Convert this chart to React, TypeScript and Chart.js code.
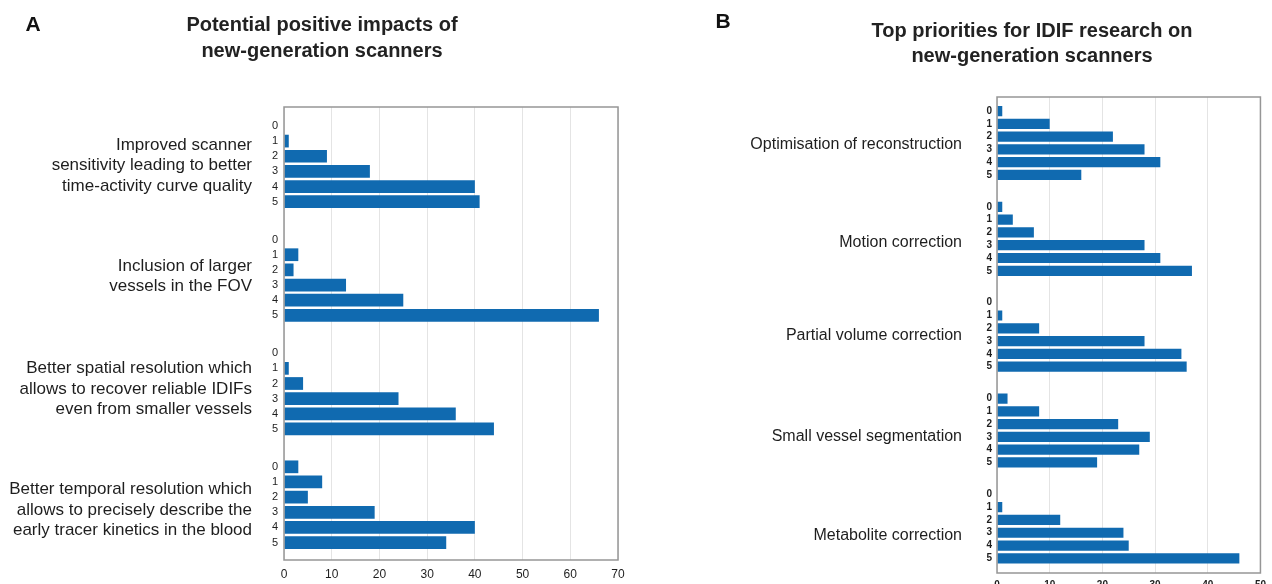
import React, { useEffect, useRef } from "react";
import { Chart, registerables } from "chart.js";

Chart.register(...registerables);

// ---------- data ----------
const RATING_LABELS = ["0", "1", "2", "3", "4", "5"];

const A_TITLE = ["Potential positive impacts of", "new-generation scanners"];
const A_GROUP_LABELS = [
  ["Improved scanner", "sensitivity leading to better", "time-activity curve quality"],
  ["Inclusion of larger", "vessels in the FOV"],
  ["Better spatial resolution which", "allows to recover reliable IDIFs", "even from smaller vessels"],
  ["Better temporal resolution which", "allows to precisely describe the", "early tracer kinetics in the blood"],
];
const A_SENSITIVITY = [0, 1, 9, 18, 40, 41];
const A_LARGER_VESSELS = [0, 3, 2, 13, 25, 66];
const A_SPATIAL = [0, 1, 4, 24, 36, 44];
const A_TEMPORAL = [3, 8, 5, 19, 40, 34];
const A_X_MAX = 70;

const B_TITLE = ["Top priorities for IDIF research on", "new-generation scanners"];
const B_GROUP_LABELS = [
  "Optimisation of reconstruction",
  "Motion correction",
  "Partial volume correction",
  "Small vessel segmentation",
  "Metabolite correction",
];
const B_RECONSTRUCTION = [1, 10, 22, 28, 31, 16];
const B_MOTION = [1, 3, 7, 28, 31, 37];
const B_PARTIAL_VOLUME = [0, 1, 8, 28, 35, 36];
const B_SEGMENTATION = [2, 8, 23, 29, 27, 19];
const B_METABOLITE = [0, 1, 12, 24, 25, 46];
const B_X_MAX = 50;

const X_STEP = 10;

// ---------- styling / layout ----------
const FONT = "'Liberation Sans', Arial, Helvetica, sans-serif";
const BAR_COLOR = "#106ab0";
const GRID_COLOR = "#e4e4e4";
const BOX_COLOR = "#969696";
const TEXT_COLOR = "#1e1e1e";
const GROUP_STRIDE = 7.5; // rows per group incl. gap
const A_LABEL_NUDGE = [0.13, -0.09, -0.13, 0.34]; // vertical nudge of group labels (rows)
const B_LABEL_NUDGE = [0.1, 0.3, 0.05, 0.5, 0.7];

const boxPlugin = {
  id: "boxFrame",
  afterDraw(chart: any) {
    const { ctx, chartArea } = chart;
    const { left, top, right, bottom } = chartArea;
    ctx.save();
    ctx.strokeStyle = BOX_COLOR;
    ctx.lineWidth = 1.5;
    ctx.strokeRect(left, top, right - left, bottom - top);
    ctx.restore();
  },
};

type PanelCfg = {
  left: number;
  width: number;
  height: number;
  series: number[][];
  groupLabels: (string | string[])[];
  labelNudge: number[];
  xMax: number;
  padTop: number;
  padRight: number;
  padBottom: number;
  xAxisH: number;
  xTickPad: number;
  xFont: any;
  yFont: any;
  groupFont: any;
  groupW: number;
  yTickW: number;
  yTickPad: number;
  groupPad: number;
  yMinPad: number;
  yMaxPad: number;
  barPct: number;
};

function Panel({ cfg }: { cfg: PanelCfg }) {
  const ref = useRef<HTMLCanvasElement | null>(null);
  useEffect(() => {
    if (!ref.current) return;
    const points: { x: number; y: number }[] = [];
    const rowPositions: number[] = [];
    cfg.series.forEach((vals, g) =>
      vals.forEach((v, r) => {
        const pos = g * GROUP_STRIDE + r;
        points.push({ x: v, y: pos });
        rowPositions.push(pos);
      })
    );
    const groupCenters = cfg.series.map(
      (vals, g) => g * GROUP_STRIDE + (vals.length - 1) / 2 + (cfg.labelNudge[g] || 0)
    );
    const yMin = -cfg.yMinPad;
    const yMax = (cfg.series.length - 1) * GROUP_STRIDE + (RATING_LABELS.length - 1) + cfg.yMaxPad;

    const zeroPad = (s: any) => {
      s.paddingTop = 0;
      s.paddingBottom = 0;
    };

    const chart = new Chart(ref.current, {
      type: "bar",
      data: {
        datasets: [
          {
            data: points as any,
            backgroundColor: BAR_COLOR,
            borderWidth: 0,
            categoryPercentage: 1,
            barPercentage: cfg.barPct,
          },
        ],
      },
      options: {
        indexAxis: "y",
        animation: false,
        responsive: false,
        devicePixelRatio: 1,
        events: [],
        layout: { padding: { left: 0, top: cfg.padTop, right: cfg.padRight, bottom: cfg.padBottom } },
        plugins: { legend: { display: false }, tooltip: { enabled: false }, title: { display: false } },
        scales: {
          x: {
            type: "linear",
            position: "bottom",
            min: 0,
            max: cfg.xMax,
            offset: false,
            grid: { color: GRID_COLOR, drawTicks: false, lineWidth: 1, offset: false },
            border: { display: false },
            ticks: { stepSize: X_STEP, padding: cfg.xTickPad, color: TEXT_COLOR, font: cfg.xFont, maxRotation: 0 },
            afterFit: (s: any) => {
              s.height = cfg.xAxisH;
            },
          },
          y: {
            type: "linear",
            position: "left",
            reverse: true,
            min: yMin,
            max: yMax,
            offset: false,
            weight: 0,
            grid: { display: false, drawTicks: false, offset: false },
            border: { display: false },
            afterBuildTicks: (s: any) => {
              s.ticks = rowPositions.map((v) => ({ value: v }));
            },
            ticks: {
              autoSkip: false,
              padding: cfg.yTickPad,
              color: TEXT_COLOR,
              font: cfg.yFont,
              callback: (_v: any, i: number) => RATING_LABELS[i % RATING_LABELS.length],
            },
            afterFit: (s: any) => {
              s.width = cfg.yTickW;
              zeroPad(s);
            },
          },
          yg: {
            type: "linear",
            position: "left",
            reverse: true,
            min: yMin,
            max: yMax,
            offset: false,
            weight: 1,
            grid: { display: false, drawTicks: false, offset: false },
            border: { display: false },
            afterBuildTicks: (s: any) => {
              s.ticks = groupCenters.map((v) => ({ value: v }));
            },
            ticks: {
              autoSkip: false,
              padding: cfg.groupPad,
              color: TEXT_COLOR,
              font: cfg.groupFont,
              callback: (_v: any, i: number) => cfg.groupLabels[i] as any,
            },
            afterFit: (s: any) => {
              s.width = cfg.groupW;
              zeroPad(s);
            },
          },
        },
      } as any,
      plugins: [boxPlugin],
    });
    return () => chart.destroy();
  }, [cfg]);
  return (
    <canvas
      ref={ref}
      width={cfg.width}
      height={cfg.height}
      style={{ position: "absolute", left: cfg.left, top: 0, width: cfg.width, height: cfg.height, display: "block" }}
    />
  );
}

const PANEL_A: PanelCfg = {
  left: 0,
  width: 644,
  height: 584,
  series: [A_SENSITIVITY, A_LARGER_VESSELS, A_SPATIAL, A_TEMPORAL],
  groupLabels: A_GROUP_LABELS,
  labelNudge: A_LABEL_NUDGE,
  xMax: A_X_MAX,
  padTop: 107,
  padRight: 26,
  padBottom: 0,
  xAxisH: 24,
  xTickPad: 7,
  xFont: { family: FONT, size: 12 },
  yFont: { family: FONT, size: 11 },
  groupFont: { family: FONT, size: 17, lineHeight: 1.2 },
  groupW: 262,
  yTickW: 22,
  yTickPad: 6,
  groupPad: 10,
  yMinPad: 1.25,
  yMaxPad: 1.15,
  barPct: 0.84,
};

const PANEL_B: PanelCfg = {
  left: 644,
  width: 628,
  height: 600,
  series: [B_RECONSTRUCTION, B_MOTION, B_PARTIAL_VOLUME, B_SEGMENTATION, B_METABOLITE],
  groupLabels: B_GROUP_LABELS,
  labelNudge: B_LABEL_NUDGE,
  xMax: B_X_MAX,
  padTop: 97,
  padRight: 10,
  padBottom: 3,
  xAxisH: 24,
  xTickPad: 6,
  xFont: { family: FONT, size: 10, weight: "bold" },
  yFont: { family: FONT, size: 10, weight: "bold" },
  groupFont: { family: FONT, size: 16, lineHeight: 1.2 },
  groupW: 326,
  yTickW: 27,
  yTickPad: 5,
  groupPad: 8,
  yMinPad: 1.1,
  yMaxPad: 1.15,
  barPct: 0.8,
};

const titleStyle: React.CSSProperties = {
  position: "absolute",
  textAlign: "center",
  fontFamily: FONT,
  fontWeight: "bold",
  fontSize: 20,
  lineHeight: "25.5px",
  color: "#222",
  whiteSpace: "nowrap",
};

const letterStyle: React.CSSProperties = {
  position: "absolute",
  fontFamily: FONT,
  fontWeight: "bold",
  fontSize: 21,
  lineHeight: "21px",
  color: "#111",
};

export default function App() {
  return (
    <div
      style={{
        position: "absolute",
        left: 0,
        top: 0,
        width: 1272,
        height: 584,
        overflow: "hidden",
        background: "#fff",
      }}
    >
      <Panel cfg={PANEL_A} />
      <Panel cfg={PANEL_B} />
      <div style={{ ...letterStyle, left: 25.5, top: 12.9 }}>A</div>
      <div style={{ ...letterStyle, left: 715.5, top: 9.5 }}>B</div>
      <div style={{ ...titleStyle, left: 0, width: 644, top: 12.3 }}>
        {A_TITLE.map((t, i) => (
          <div key={i}>{t}</div>
        ))}
      </div>
      <div style={{ ...titleStyle, left: 792, width: 480, top: 17.6 }}>
        {B_TITLE.map((t, i) => (
          <div key={i}>{t}</div>
        ))}
      </div>
    </div>
  );
}
